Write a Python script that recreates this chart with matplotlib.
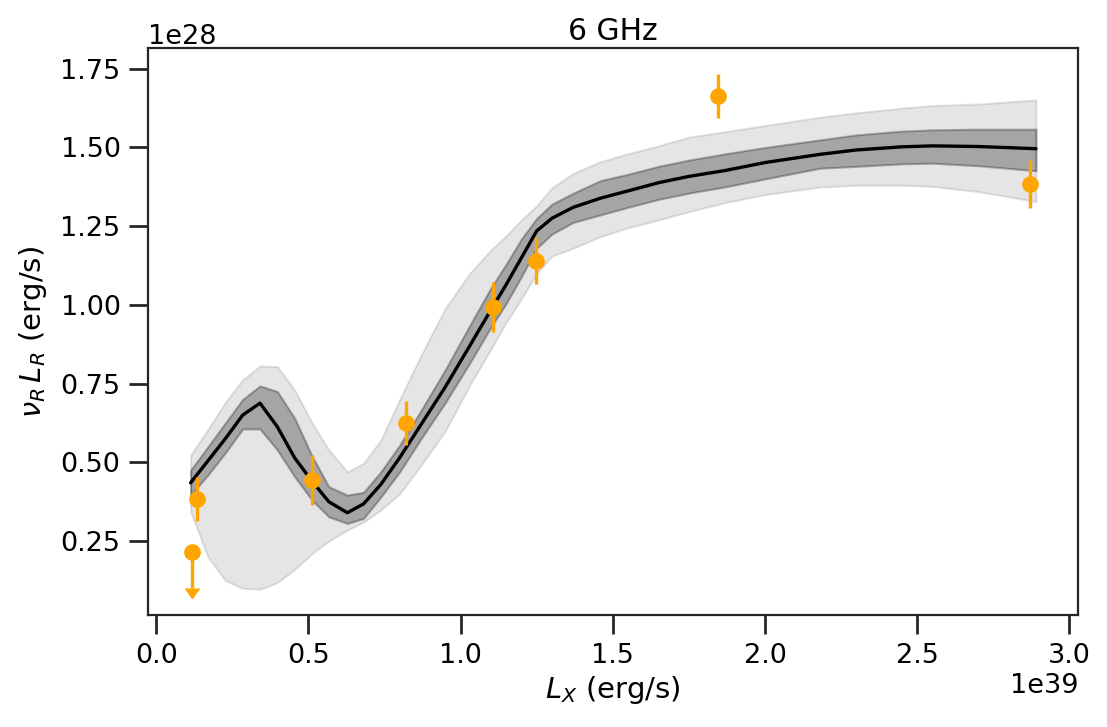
import numpy as np
import matplotlib
matplotlib.use('Agg')
import matplotlib.pyplot as plt
import seaborn as sns

sns.set_context('talk')
sns.set_style('ticks')
plt.rcParams['font.family'] = ['DejaVu Sans']
plt.rcParams['text.color'] = 'black'
plt.rcParams['axes.labelcolor'] = 'black'
plt.rcParams['xtick.labelcolor'] = 'black'
plt.rcParams['ytick.labelcolor'] = 'black'

# model curve (x in 1e39 erg/s, y in 1e28 erg/s)
lx = [0.113, 0.17, 0.227, 0.284, 0.341, 0.398, 0.455, 0.512, 0.567, 0.628, 0.681, 0.738,
      0.80, 0.87, 0.95, 1.03, 1.10, 1.15, 1.20, 1.25, 1.30, 1.37, 1.46, 1.55, 1.65, 1.75,
      1.87, 2.00, 2.18, 2.30, 2.45, 2.55, 2.70, 2.89]
lr_med = [0.435, 0.505, 0.575, 0.650, 0.688, 0.613, 0.514, 0.440, 0.375, 0.340, 0.368, 0.430,
          0.515, 0.620, 0.740, 0.870, 0.985, 1.065, 1.150, 1.235, 1.275, 1.310, 1.339, 1.362,
          1.388, 1.408, 1.427, 1.452, 1.478, 1.492, 1.502, 1.505, 1.503, 1.496]
lr_hi1 = [0.475, 0.55, 0.625, 0.70, 0.743, 0.725, 0.64, 0.52, 0.423, 0.396, 0.405, 0.47,
          0.555, 0.665, 0.795, 0.935, 1.055, 1.13, 1.21, 1.275, 1.32, 1.355, 1.395, 1.415,
          1.44, 1.46, 1.48, 1.50, 1.524, 1.54, 1.552, 1.556, 1.558, 1.558]
lr_lo1 = [0.396, 0.46, 0.53, 0.606, 0.606, 0.539, 0.454, 0.38, 0.327, 0.306, 0.322, 0.39,
          0.47, 0.575, 0.69, 0.815, 0.93, 1.005, 1.09, 1.18, 1.225, 1.262, 1.286, 1.31,
          1.335, 1.355, 1.375, 1.40, 1.434, 1.44, 1.448, 1.45, 1.442, 1.426]
lr_hi2 = [0.523, 0.605, 0.69, 0.762, 0.806, 0.804, 0.73, 0.625, 0.54, 0.47, 0.497, 0.571,
          0.70, 0.84, 0.99, 1.10, 1.175, 1.22, 1.27, 1.315, 1.372, 1.418, 1.455, 1.48,
          1.505, 1.533, 1.55, 1.57, 1.596, 1.61, 1.625, 1.633, 1.638, 1.651]
lr_lo2 = [0.343, 0.20, 0.125, 0.100, 0.097, 0.118, 0.16, 0.21, 0.25, 0.285, 0.31, 0.349,
          0.40, 0.49, 0.60, 0.745, 0.86, 0.945, 1.02, 1.10, 1.155, 1.18, 1.217, 1.245,
          1.27, 1.296, 1.325, 1.35, 1.374, 1.38, 1.38, 1.376, 1.36, 1.328]

# observed points
obs_x = [0.134, 0.511, 0.82, 1.105, 1.246, 1.846, 2.869]
obs_y = [0.384, 0.444, 0.625, 0.993, 1.14, 1.664, 1.384]
obs_err = [0.07, 0.08, 0.07, 0.08, 0.075, 0.07, 0.075]
ul_x = [0.118]
ul_y = [0.215]
ul_err = [0.115]

x = np.array(lx) * 1e39
s = 1e28

fig, ax = plt.subplots(figsize=(11.07, 7.27), dpi=100)
fig.subplots_adjust(left=0.134, right=0.974, bottom=0.154, top=0.934)

ax.fill_between(x, np.array(lr_lo2) * s, np.array(lr_hi2) * s, color='k', alpha=0.1)
ax.fill_between(x, np.array(lr_lo1) * s, np.array(lr_hi1) * s, color='k', alpha=0.28)
ax.plot(x, np.array(lr_med) * s, color='k', lw=2.4)

ax.errorbar(np.array(obs_x) * 1e39, np.array(obs_y) * s, yerr=np.array(obs_err) * s,
            fmt='o', color='orange', ms=11, lw=2.4, zorder=5)
ax.errorbar(np.array(ul_x) * 1e39, np.array(ul_y) * s, yerr=np.array(ul_err) * s,
            uplims=True, fmt='o', color='orange', ms=11, lw=2.4, capsize=5, zorder=5)

ax.tick_params(length=14, width=2, pad=6, labelsize=19.5)
for sp in ax.spines.values():
    sp.set_linewidth(1.6)

ax.set_title('6 GHz', fontsize=21.5)
ax.set_xlabel(r'$L_X$ (erg/s)', fontsize=21, labelpad=4)
ax.set_ylabel(r'$\nu_R\,L_R$ (erg/s)', fontsize=21, labelpad=8)
ax.xaxis.get_offset_text().set_fontsize(19.5)
ax.yaxis.get_offset_text().set_fontsize(19.5)

fig.savefig('out.png', dpi=100)
